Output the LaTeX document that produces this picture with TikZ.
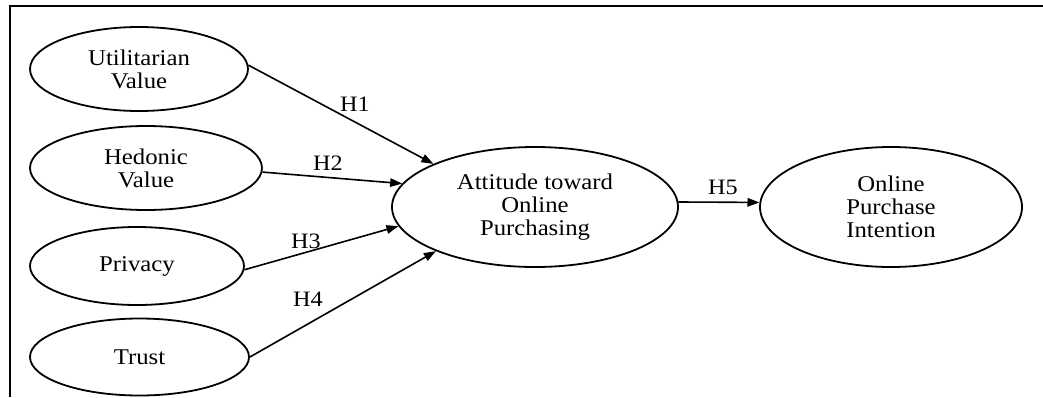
\documentclass[tikz,border=0pt]{standalone}
\usepackage{fontspec}
\setmainfont{Liberation Serif}[FakeStretch=1.1]
\usetikzlibrary{shapes.geometric,arrows.meta}
\begin{document}
\begin{tikzpicture}[x=1pt,y=-1pt,
  var/.style={ellipse,draw,line width=1.8pt,inner sep=0pt,align=center,
    font=\fontsize{22.5}{23}\selectfont},
  hyp/.style={line width=1.6pt,-{Triangle[length=12pt,width=8.5pt]}},
  lab/.style={font=\fontsize{22}{22}\selectfont,inner sep=0pt}]
\useasboundingbox (0,0) rectangle (1043,397);
\coordinate (fb) at (10,397);
\coordinate (fc) at (10,6);
\coordinate (fr) at (1043,6);
\draw[line width=2.6pt] (fb) -- (fc) -- (fr);

\node[var,minimum width=218pt,minimum height=84pt] (U) at (139,69) {Utilitarian\\Value};
\node[var,minimum width=232pt,minimum height=84pt] (H) at (146,168) {Hedonic\\Value};
\node[var,minimum width=214pt,minimum height=78pt] (P) at (137,266) {Privacy};
\node[var,minimum width=219pt,minimum height=77pt] (T) at (139.5,357) {Trust};
\node[var,minimum width=286pt,minimum height=120pt] (A) at (535,207) {Attitude toward\\Online\\Purchasing};
\node[var,minimum width=262pt,minimum height=120pt] (O) at (891,207) {Online\\Purchase\\Intention};

\draw[hyp] (U.2) -- (A.157);
\draw[hyp] (H.-2) -- (A.170);
\draw[hyp] (P.-2) -- (A.188);
\draw[hyp] (T.east) -- (A.204);
\draw[hyp] (A.2) -- (O.178);

\node[lab] (l1) at (355,104) {H1};
\node[lab] (l2) at (328,163) {H2};
\node[lab] (l3) at (306,241) {H3};
\node[lab] (l4) at (308,299) {H4};
\node[lab] (l5) at (723,187) {H5};
\end{tikzpicture}
\end{document}
